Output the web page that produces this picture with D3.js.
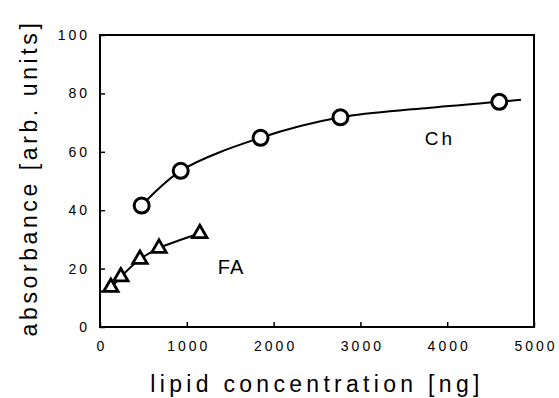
<!DOCTYPE html>
<html>
<head>
<meta charset="utf-8">
<script src="https://cdn.jsdelivr.net/npm/d3@7"></script>
<style>
  body { margin: 0; background: #fff; }
  text { font-family: "Liberation Sans", Arial, sans-serif; fill: #000; }
</style>
</head>
<body>
<div id="chart"></div>
<script>
// values
const chX = [480, 930, 1850, 2770, 4600];
const chY = [41.6, 53.5, 64.8, 71.8, 77.1];
const chFitX = [480, 930, 1850, 2770, 3700, 4600, 4850];
const chFitY = [41.6, 53.5, 64.8, 71.8, 74.8, 77.1, 77.8];

const faX = [125, 240, 460, 680, 1150];
const faY = [13.6, 17.2, 23.2, 27, 32];
const faFitX = [0, 125, 240, 460, 680, 1150];
const faFitY = [12, 13.6, 17.2, 23.2, 27, 32];

const xTicks = [0, 1000, 2000, 3000, 4000, 5000];
const yTicks = [0, 20, 40, 60, 80, 100];

const width = 559, height = 398;
const margin = {top: 35, right: 25, bottom: 71, left: 100};

let svg = d3.select("#chart")
    .append("svg")
    .attr("width", width)
    .attr("height", height);

let x = d3.scaleLinear().domain([0, 5000]).range([margin.left, width - margin.right]);
let y = d3.scaleLinear().domain([0, 100]).range([height - margin.bottom, margin.top]);

// frame
svg.append("path")
    .attr("d", `M${x(0)},${y(0)}V${y(100)}H${x(5000)}V${y(0)}Z`)
    .attr("fill", "none")
    .attr("stroke", "#000")
    .attr("stroke-width", 2);

// axes with inward ticks
let xAxis = svg.append("g")
    .attr("transform", `translate(0,${y(0)})`)
    .call(d3.axisBottom(x).tickValues(xTicks).tickFormat(d3.format("d"))
        .tickSizeInner(-5).tickSizeOuter(0).tickPadding(14));
let yAxis = svg.append("g")
    .attr("transform", `translate(${x(0)},0)`)
    .call(d3.axisLeft(y).tickValues(yTicks).tickFormat(d3.format("d"))
        .tickSizeInner(-5).tickSizeOuter(0).tickPadding(13));
[xAxis, yAxis].forEach(a => {
    a.select(".domain").remove();
    a.selectAll(".tick line").attr("stroke", "#000").attr("stroke-width", 1.5);
    a.selectAll("text").style("font-size", "14px").style("letter-spacing", "3px");
});
// letter-spacing adds trailing space, nudge labels back
xAxis.selectAll("text").attr("dx", 1.5);
yAxis.selectAll("text").attr("dx", 3);

// fitted curves
let line = d3.line().curve(d3.curveCatmullRom.alpha(0.5)).x(d => x(d[0])).y(d => y(d[1]));
svg.append("path")
    .datum(chFitX.map((v, i) => [v, chFitY[i]]))
    .attr("d", line).attr("fill", "none").attr("stroke", "#000").attr("stroke-width", 2);
svg.append("path")
    .datum(faFitX.map((v, i) => [v, faFitY[i]]))
    .attr("d", line).attr("fill", "none").attr("stroke", "#000").attr("stroke-width", 2);

// markers
svg.selectAll("circle.ch")
    .data(chX.map((v, i) => [v, chY[i]]))
    .enter().append("circle")
    .attr("class", "ch")
    .attr("cx", d => x(d[0])).attr("cy", d => y(d[1]))
    .attr("r", 7.5)
    .attr("fill", "#fff").attr("stroke", "#000").attr("stroke-width", 3);

let tri = d3.symbol().type(d3.symbolTriangle).size(90);
svg.selectAll("path.fa")
    .data(faX.map((v, i) => [v, faY[i]]))
    .enter().append("path")
    .attr("class", "fa")
    .attr("d", tri)
    .attr("transform", d => `translate(${x(d[0])},${y(d[1])})`)
    .attr("fill", "#fff").attr("stroke", "#000").attr("stroke-width", 2.8);

// series labels
svg.append("text")
    .attr("x", 440).attr("y", 145)
    .style("text-anchor", "middle").style("font-size", "19px").style("letter-spacing", "3px")
    .text("Ch");
svg.append("text")
    .attr("x", 231).attr("y", 274)
    .style("text-anchor", "middle").style("font-size", "20px").style("letter-spacing", "1px")
    .text("FA");

// axis titles
svg.append("text")
    .attr("x", 317).attr("y", 392)
    .style("text-anchor", "middle").style("font-size", "23px").style("letter-spacing", "4.3px")
    .text("lipid concentration [ng]");
svg.append("text")
    .attr("transform", "translate(37,178) rotate(-90)")
    .style("text-anchor", "middle").style("font-size", "23px").style("letter-spacing", "3.6px")
    .text("absorbance [arb. units]");
</script>
</body>
</html>
